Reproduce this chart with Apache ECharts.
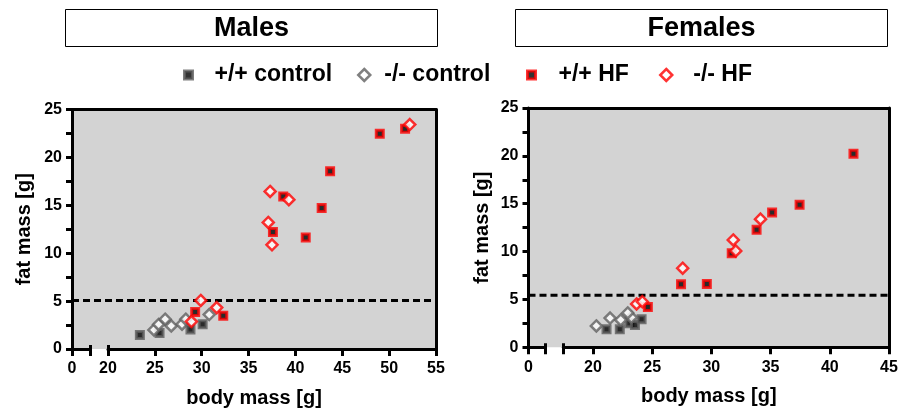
<!DOCTYPE html>
<html>
<head>
<meta charset="utf-8">
<script src="https://cdn.jsdelivr.net/npm/echarts@6/dist/echarts.min.js"></script>
<style>
  html, body { margin: 0; padding: 0; background: #fff; }
  #chart { width: 903px; height: 409px; }
</style>
</head>
<body>
<div id="chart"></div>
<script>
// ---- data: [body mass (g), fat mass (g)] per animal ----
const groupNames = ['+/+ control', '-/- control', '+/+ HF', '-/- HF'];
const panelTitles = ['Males', 'Females'];
const xAxisTitle = 'body mass [g]';
const yAxisTitle = 'fat mass [g]';

const maleCtrlWT = [[23.4, 1.46], [25.5, 1.67], [28.8, 2.04], [30.1, 2.58]];
const maleCtrlKO = [[24.9, 1.99], [25.4, 2.56], [26.1, 3.11], [26.75, 2.41], [27.9, 2.59], [28.3, 3.11], [30.8, 3.6]];
const maleHfWT = [[49.0, 22.46], [51.7, 23.0], [43.7, 18.55], [42.8, 14.72], [38.7, 15.93], [37.6, 12.21], [41.1, 11.64], [29.3, 3.87], [32.3, 3.47]];
const maleHfKO = [[52.2, 23.43], [37.3, 16.45], [39.3, 15.59], [37.1, 13.21], [37.5, 10.88], [28.9, 2.86], [29.9, 5.07], [31.6, 4.32]];

const femaleCtrlWT = [[21.15, 1.88], [22.27, 1.88], [23.08, 2.51], [23.55, 2.33], [24.11, 2.93]];
const femaleCtrlKO = [[20.29, 2.23], [21.45, 3.06], [22.35, 2.86], [23.25, 3.12], [22.94, 3.59]];
const femaleHfWT = [[24.64, 4.2], [27.44, 6.59], [29.62, 6.62], [31.72, 9.83], [33.82, 12.27], [35.13, 14.08], [37.45, 14.88], [42.0, 20.22]];
const femaleHfKO = [[23.69, 4.53], [24.17, 4.77], [27.58, 8.26], [31.85, 11.22], [32.06, 10.07], [34.15, 13.39]];

// obesity cut-off drawn as a dashed line
const maleFatThreshold = 5.05;
const femaleFatThreshold = 5.45;

// axis scales
const yRange = [0, 25];
const yStep = 2.5;
const yLabelled = [0, 5, 10, 15, 20, 25];
const maleXRange = [20, 55];
const femaleXRange = [17.5, 45];
const maleXTicks = [20, 25, 30, 35, 40, 45, 50, 55];
const femaleXTicks = [20, 25, 30, 35, 40, 45];
const preBreakTicks = [0];

// ---- layout & styling ----
const FONT = "'Liberation Sans', Arial, Helvetica, sans-serif";
const BLACK = '#000';
const thick = { color: BLACK, width: 3 };
const labelFont = { color: BLACK, fontSize: 16, fontWeight: 'bold', fontFamily: FONT };
const nameFont = { color: BLACK, fontSize: 20, fontWeight: 'bold', fontFamily: FONT };

const groupStyles = [
  { symbol: 'rect', symbolSize: 7, itemStyle: { color: BLACK, borderColor: '#5c5c5c', borderWidth: 3 } },
  { symbol: 'diamond', symbolSize: 11, itemStyle: { color: '#fff', borderColor: '#606060', borderWidth: 2.5 } },
  { symbol: 'rect', symbolSize: 7, itemStyle: { color: BLACK, borderColor: '#ff0000', borderWidth: 3 } },
  { symbol: 'diamond', symbolSize: 11, itemStyle: { color: '#fff', borderColor: '#ff0000', borderWidth: 2.5 } }
];

const panels = [
  {
    title: panelTitles[0], box: { x: 65.5, y: 9.5, w: 372, h: 37 },
    left: 72, top: 109.5, right: 436, bottom: 349, breakL: 90, breakR: 108,
    xRange: maleXRange, xTicks: maleXTicks, threshold: maleFatThreshold,
    groups: [maleCtrlWT, maleCtrlKO, maleHfWT, maleHfKO], yNameGap: 38
  },
  {
    title: panelTitles[1], box: { x: 515.5, y: 9.5, w: 372, h: 37 },
    left: 528.5, top: 108, right: 889, bottom: 347.3, breakL: 545, breakR: 563.3,
    xRange: femaleXRange, xTicks: femaleXTicks, threshold: femaleFatThreshold,
    groups: [femaleCtrlWT, femaleCtrlKO, femaleHfWT, femaleHfKO], yNameGap: 36
  }
];

// square icon box; the label is pushed right with left padding
const legendLayout = [
  { left: 183, size: 8, textPad: 17 },
  { left: 357, size: 12, textPad: 9 },
  { left: 526, size: 8, textPad: 18 },
  { left: 659, size: 12, textPad: 16 }
];
const legendTop = 63;

const option = {
  animation: false,
  backgroundColor: '#fff',
  grid: [], xAxis: [], yAxis: [], series: [], legend: [], graphic: []
};

const noSplit = { show: false };

panels.forEach(function (p) {
  const g0 = option.grid.length;
  const h = p.bottom - p.top;
  const gridBase = { top: p.top, height: h, containLabel: false, outerBoundsMode: 'none' };

  // shaded plotting area, framed on top and right
  option.grid.push(Object.assign({ left: p.left, width: p.right - p.left, show: true,
    backgroundColor: '#d3d3d3', borderWidth: 0 }, gridBase));
  // short axis segment before the break (0 only)
  option.grid.push(Object.assign({ left: p.left, width: p.breakL - p.left }, gridBase));
  // axis segment after the break, holds the data
  option.grid.push(Object.assign({ left: p.breakR, width: p.right - p.breakR }, gridBase));

  const x0 = option.xAxis.length;
  option.xAxis.push(
    { // top frame line; also the scale for the cut-off line
      gridIndex: g0, type: 'value', position: 'top', min: 0, max: 1,
      axisLine: { show: true, onZero: false, lineStyle: thick },
      axisTick: { show: false }, axisLabel: { show: false }, splitLine: noSplit
    },
    { // carries the centred axis title
      gridIndex: g0, type: 'value', position: 'bottom', min: 0, max: 1,
      axisLine: { show: false, onZero: false },
      axisTick: { show: false }, axisLabel: { show: false }, splitLine: noSplit,
      name: xAxisTitle, nameLocation: 'middle', nameGap: 39, nameTextStyle: nameFont
    },
    { // segment before the break
      gridIndex: g0 + 1, type: 'value', position: 'bottom', min: 0, max: 2,
      axisLine: { show: true, onZero: false, lineStyle: thick },
      axisTick: { show: true, length: 7, lineStyle: thick, customValues: preBreakTicks },
      axisLabel: Object.assign({ customValues: preBreakTicks, margin: 12 }, labelFont),
      splitLine: noSplit
    },
    { // break mark at the end of the first segment
      gridIndex: g0 + 1, type: 'value', position: 'top', offset: -(h + 7), min: 0, max: 2,
      axisLine: { show: false, onZero: false },
      axisTick: { show: true, length: 11, lineStyle: thick, customValues: [2] },
      axisLabel: { show: false }, splitLine: noSplit
    },
    { // main body-mass axis
      gridIndex: g0 + 2, type: 'value', position: 'bottom', min: p.xRange[0], max: p.xRange[1],
      axisLine: { show: true, onZero: false, lineStyle: thick },
      axisTick: { show: true, length: 7, lineStyle: thick, customValues: p.xTicks },
      axisLabel: Object.assign({ customValues: p.xTicks, margin: 12 }, labelFont),
      splitLine: noSplit
    },
    { // break mark at the start of the second segment
      gridIndex: g0 + 2, type: 'value', position: 'top', offset: -(h + 7),
      min: p.xRange[0], max: p.xRange[1],
      axisLine: { show: false, onZero: false },
      axisTick: { show: true, length: 11, lineStyle: thick, customValues: [p.xRange[0]] },
      axisLabel: { show: false }, splitLine: noSplit
    }
  );

  const y0 = option.yAxis.length;
  option.yAxis.push(
    {
      gridIndex: g0, type: 'value', position: 'left', min: yRange[0], max: yRange[1], interval: yStep,
      axisLine: { show: true, onZero: false, lineStyle: thick },
      axisTick: { show: true, length: 6, lineStyle: thick },
      axisLabel: Object.assign({
        margin: 10,
        formatter: function (v) { return yLabelled.indexOf(v) >= 0 ? String(v) : ''; }
      }, labelFont),
      splitLine: noSplit,
      name: yAxisTitle, nameLocation: 'middle', nameGap: p.yNameGap, nameTextStyle: nameFont
    },
    { // right frame line
      gridIndex: g0, type: 'value', position: 'right', min: yRange[0], max: yRange[1],
      axisLine: { show: true, onZero: false, lineStyle: thick },
      axisTick: { show: false }, axisLabel: { show: false }, splitLine: noSplit
    },
    { gridIndex: g0 + 1, type: 'value', min: yRange[0], max: yRange[1], show: false },
    { gridIndex: g0 + 2, type: 'value', min: yRange[0], max: yRange[1], show: false }
  );

  // dashed cut-off line across the full plotting area
  option.series.push({
    type: 'line', xAxisIndex: x0, yAxisIndex: y0,
    data: [[0, p.threshold], [1, p.threshold]],
    symbol: 'none', silent: true, z: 1,
    lineStyle: { color: BLACK, width: 3, type: [7, 4] }
  });

  p.groups.forEach(function (pts, i) {
    option.series.push(Object.assign({
      type: 'scatter', name: groupNames[i],
      xAxisIndex: x0 + 4, yAxisIndex: y0 + 3,
      data: pts, silent: true, z: 3 + i
    }, groupStyles[i]));
  });

  // boxed panel title
  option.graphic.push(
    { type: 'rect', shape: { x: p.box.x, y: p.box.y, width: p.box.w, height: p.box.h },
      style: { fill: '#fff', stroke: BLACK, lineWidth: 1 } },
    { type: 'text', x: p.box.x + p.box.w / 2, y: p.box.y + p.box.h / 2 + 1,
      style: { text: p.title, fill: BLACK, font: 'bold 27px ' + FONT,
        align: 'center', verticalAlign: 'middle', textAlign: 'center', textVerticalAlign: 'middle' } }
  );
});

// one legend entry per group, laid out in a single row
groupNames.forEach(function (name, i) {
  const st = groupStyles[i];
  const lay = legendLayout[i];
  option.legend.push({
    left: lay.left, top: legendTop, padding: 0, orient: 'horizontal',
    itemWidth: lay.size, itemHeight: lay.size,
    selectedMode: false,
    textStyle: { color: BLACK, fontSize: 23, fontWeight: 'bold', fontFamily: FONT,
      lineHeight: 24, padding: [0, 0, 0, lay.textPad] },
    data: [{ name: name, icon: st.symbol, itemStyle: Object.assign({}, st.itemStyle) }]
  });
});

const chart = echarts.init(document.getElementById('chart'), null, { renderer: 'canvas' });
chart.setOption(option);
</script>
</body>
</html>
